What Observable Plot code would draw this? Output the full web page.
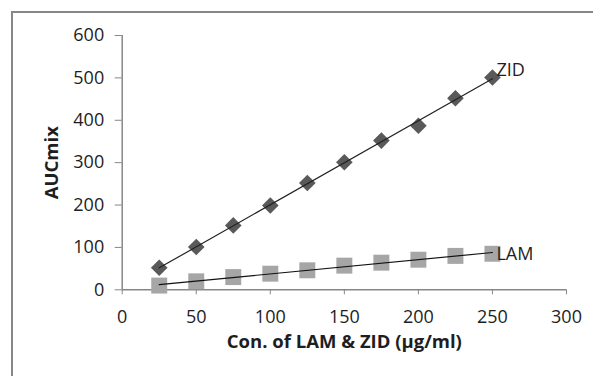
<!DOCTYPE html>
<html>
<head>
<meta charset="utf-8">
<script src="https://cdn.jsdelivr.net/npm/d3@7"></script>
<script src="https://cdn.jsdelivr.net/npm/@observablehq/plot@0.6"></script>
<style>
  html, body { margin: 0; padding: 0; background: #fff; overflow: hidden; }
  #wrap { position: relative; width: 593px; height: 376px; overflow: hidden; }
  #frame { position: absolute; left: 11px; top: 11px; width: 800px; height: 600px;
           border-left: 2px solid #878787; border-top: 2px solid #878787; }
  #chart { position: absolute; left: 0; top: 0; }
  #chart g[aria-label$="tick label"] { font-size: 18px; }
</style>
</head>
<body>
<div id="wrap"><div id="frame"></div><div id="chart"></div></div>
<script>
const concentrations = [25, 50, 75, 100, 125, 150, 175, 200, 225, 250];
const zidValues = [52, 101, 152, 199, 252, 301, 352, 387, 452, 501];
const lamValues = [10, 20, 30, 38, 46, 57, 64, 71, 80, 85];
const seriesNames = ["ZID", "LAM"];
const xTicks = [0, 50, 100, 150, 200, 250, 300];
const yTicks = [0, 100, 200, 300, 400, 500, 600];
const xTitle = "Con. of LAM & ZID (µg/ml)";
const yTitle = "AUCmix";

const zidRows = concentrations.map((c, i) => ({series: seriesNames[0], x: c, y: zidValues[i]}));
const lamRows = concentrations.map((c, i) => ({series: seriesNames[1], x: c, y: lamValues[i]}));
const zidEnd = [zidRows[zidRows.length - 1]];
const lamEnd = [lamRows[lamRows.length - 1]];

const axisGray = "#878787";
const textColor = "#1e1e1e";
const tickFont = 18;
const titleFont = 18.5;

const chart = Plot.plot({
  width: 593,
  height: 376,
  marginLeft: 121.7,
  marginRight: 27,
  marginTop: 35,
  marginBottom: 86.7,
  x: {domain: [0, 300]},
  y: {domain: [0, 600]},
  style: {fontFamily: "'Open Sans', sans-serif", fontSize: tickFont + "px", background: "transparent", color: textColor},
  marks: [
    Plot.ruleY([0], {stroke: axisGray, strokeWidth: 1.5}),
    Plot.ruleX([0], {stroke: axisGray, strokeWidth: 1.5}),
    Plot.axisX({ticks: xTicks, tickSize: 5, tickPadding: 15, stroke: axisGray, fill: textColor, fontSize: tickFont, label: null, tickFormat: d => String(d)}),
    Plot.axisY({ticks: yTicks, tickSize: 7, tickPadding: 11, stroke: axisGray, fill: textColor, fontSize: tickFont, label: null, tickFormat: d => String(d)}),
    Plot.dot(lamRows, {x: "x", y: "y", symbol: "square", r: 9, fill: "#a6a6a6", stroke: "none"}),
    Plot.dot(zidRows, {x: "x", y: "y", symbol: "diamond2", r: 7.5, fill: "#595959", stroke: "none"}),
    Plot.linearRegressionY(lamRows, {x: "x", y: "y", stroke: "#111", strokeWidth: 1.2, ci: 0}),
    Plot.linearRegressionY(zidRows, {x: "x", y: "y", stroke: "#222", strokeWidth: 1.2, ci: 0}),
    Plot.text(zidEnd, {x: "x", y: "y", text: "series", textAnchor: "start", dx: 4, dy: -7, fill: textColor, fontSize: tickFont}),
    Plot.text(lamEnd, {x: "x", y: "y", text: "series", textAnchor: "start", dx: 4, dy: 0, fill: textColor, fontSize: tickFont}),
    Plot.text([xTitle], {frameAnchor: "bottom", dy: 52.4, fontWeight: "bold", fill: textColor, fontSize: titleFont, textAnchor: "middle", lineAnchor: "middle"}),
    Plot.text([yTitle], {frameAnchor: "left", dx: -69.7, rotate: -90, fontWeight: "bold", fill: textColor, fontSize: titleFont, textAnchor: "middle", lineAnchor: "middle"})
  ]
});
document.getElementById("chart").appendChild(chart);
</script>
</body>
</html>
